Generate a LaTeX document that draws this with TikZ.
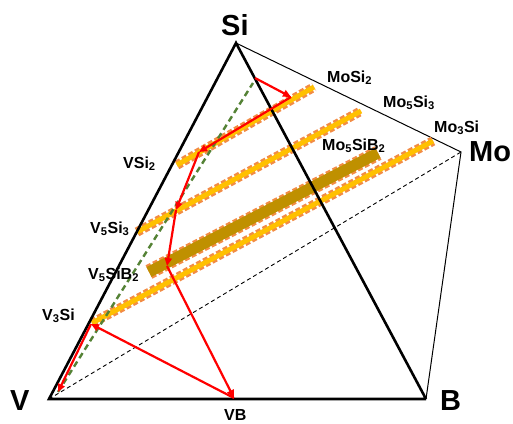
\documentclass[tikz,border=0pt]{standalone}
\usepackage{fontspec}
\setmainfont{Liberation Sans}
\usetikzlibrary{arrows.meta}
\definecolor{bandcore}{HTML}{FFC000}
\definecolor{bandedge}{HTML}{F28C45}
\definecolor{goldcore}{HTML}{BF9000}
\definecolor{grn}{HTML}{548235}
\definecolor{redline}{HTML}{FF0000}
\begin{document}
\begin{tikzpicture}[x=1pt,y=-1pt,
  edgethick/.style={line width=2.6pt,black},
  edgethin/.style={line width=1pt,black},
  edgedash/.style={line width=0.9pt,black,dash pattern=on 4pt off 3pt},
  bandout/.style={line width=9.5pt,bandedge,dash pattern=on 5pt off 2.5pt},
  bandin/.style={line width=5pt,bandcore},
  bigout/.style={line width=15pt,bandedge,dash pattern=on 5pt off 2.5pt},
  bigin/.style={line width=11pt,goldcore},
  greendash/.style={line width=2.4pt,grn,dash pattern=on 6pt off 4pt},
  redarrow/.style={line width=2.2pt,redline,-{Triangle[length=8pt,width=7pt]}},
  biglabel/.style={inner sep=0pt,anchor=base west,font=\fontsize{29}{30}\selectfont\bfseries},
  smalllabel/.style={inner sep=0pt,anchor=base west,font=\fontsize{16}{18}\selectfont\bfseries}]
\useasboundingbox (0,0) rectangle (513,423);
\clip (0,0) rectangle (513,423);
% vertices
\coordinate (Si) at (236,43);
\coordinate (V) at (49,399);
\coordinate (B) at (426,399);
\coordinate (Mo) at (461,152);
% back edges
\draw[edgedash] (V) -- (Mo);
\draw[edgethin] (Si) -- (Mo) -- (B);
% bands
\coordinate (b1s) at (177,165); \coordinate (b1e) at (314,87);
\coordinate (b2s) at (137,232); \coordinate (b2e) at (361,111);
\coordinate (b3s) at (149,272); \coordinate (b3e) at (378,153);
\coordinate (b4s) at (92,323);  \coordinate (b4e) at (433,141);
\draw[bandout] (b1s) -- (b1e); \draw[bandin] (b1s) -- (b1e);
\draw[bandout] (b2s) -- (b2e); \draw[bandin] (b2s) -- (b2e);
\draw[bigout] (b3s) -- (b3e); \draw[bigin] (b3s) -- (b3e);
\draw[bandout] (b4s) -- (b4e); \draw[bandin] (b4s) -- (b4e);
% front edges
\draw[edgethick,line join=miter] (B) -- (Si) -- (V) -- (B);
% green dashed line
\coordinate (g1) at (58,392);
\coordinate (g2) at (253,83);
\draw[greendash] (g1) -- (g2);
% red path
\coordinate (r0) at (255,78);
\coordinate (r1) at (291,97);
\coordinate (r2) at (199,152);
\coordinate (r3) at (176,210);
\coordinate (r4) at (167,266);
\coordinate (VBp) at (234,398);
\coordinate (V3p) at (91,324);
\coordinate (Vend) at (58,392);
\draw[redarrow] (r0) -- (r1);
\draw[redarrow] (r1) -- (r2);
\draw[redarrow] (r2) -- (r3);
\draw[redarrow] (r3) -- (r4);
\draw[redarrow] (r4) -- (VBp);
\draw[redarrow] (VBp) -- (V3p);
\draw[redarrow] (V3p) -- (Vend);
% labels
\node[biglabel] (lSi) at (221,35) {Si};
\node[biglabel] (lV) at (10,410) {V};
\node[biglabel] (lB) at (440,410) {B};
\node[biglabel] (lMo) at (469,161) {Mo};
\node[smalllabel] (lVB) at (224,420) {VB};
\node[smalllabel] (lVSi2) at (123,168) {VSi\textsubscript{2}};
\node[smalllabel] (lV5Si3) at (90,233) {V\textsubscript{5}Si\textsubscript{3}};
\node[smalllabel] (lV5SiB2) at (88,279) {V\textsubscript{5}SiB\textsubscript{2}};
\node[smalllabel] (lV3Si) at (42,320) {V\textsubscript{3}Si};
\node[smalllabel] (lMoSi2) at (327,82) {MoSi\textsubscript{2}};
\node[smalllabel] (lMo5Si3) at (383,107) {Mo\textsubscript{5}Si\textsubscript{3}};
\node[smalllabel] (lMo3Si) at (434,132) {Mo\textsubscript{3}Si};
\node[smalllabel] (lMo5SiB2) at (322,150) {Mo\textsubscript{5}SiB\textsubscript{2}};
\end{tikzpicture}
\end{document}
